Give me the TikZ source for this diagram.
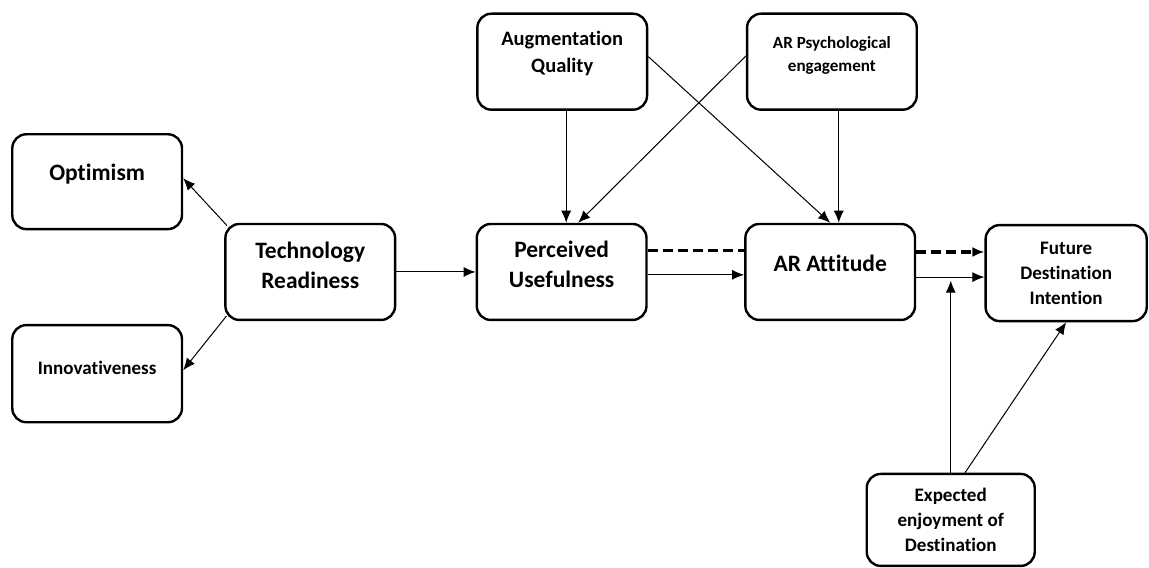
\documentclass[tikz,border=0pt]{standalone}
\usepackage{fontspec}
\setmainfont{Carlito}[Ligatures=NoCommon]
\usetikzlibrary{arrows.meta,positioning}

\begin{document}
\begin{tikzpicture}[font=\bfseries, >={Latex[length=6pt,width=5pt]},
 box/.style={draw,line width=1.2pt,rounded corners=7pt,align=center,minimum width=2.97cm,minimum height=1.68cm,inner sep=2pt},
 lift/.style={execute at end node={\rule[-#1]{0pt}{#1}}},
 bigtxt/.style={font=\bfseries\fontsize{11.7}{15}\selectfont},
 midtxt/.style={font=\bfseries\fontsize{9.5}{12.4}\selectfont},
 arr/.style={->,line width=.5pt},
 dline/.style={line width=1.3pt,dash pattern=on 5pt off 2.5pt},
 darr/.style={->,line width=2pt,dash pattern=on 5pt off 2.5pt}]
\useasboundingbox (0,0) rectangle (20.11,9.94);
\node[box,bigtxt,lift=9pt,minimum height=1.66cm] (opt) at (1.70,6.76) {Optimism};
\node[box,midtxt,lift=6pt,minimum height=1.70cm] (inn) at (1.70,3.40) {Innovativeness};
\node[box,bigtxt,lift=7pt] (tr) at (5.43,5.18) {Technology\\Readiness};
\node[box,bigtxt,lift=8pt] (pu) at (9.83,5.18) {Perceived\\Usefulness};
\node[box,bigtxt,lift=9pt] (ara) at (14.53,5.18) {AR Attitude};
\node[box,midtxt,minimum width=2.82cm] (fdi) at (18.66,5.16) {Future\\Destination\\Intention};
\node[box,lift=10pt,font=\bfseries\fontsize{10.2}{13.4}\selectfont] (aq) at (9.84,8.86) {Augmentation\\Quality};
\node[box,lift=8pt,font=\bfseries\fontsize{8.5}{11.5}\selectfont] (arpe) at (14.56,8.86) {AR Psychological\\engagement};
\node[box,midtxt,minimum width=2.94cm,minimum height=1.61cm] (eed) at (16.64,0.84) {Expected\\enjoyment of\\Destination};
\draw[arr] ([xshift=.05cm,yshift=-.05cm]tr.north west) -- ([yshift=.06cm]opt.east);
\draw[arr] ([xshift=.04cm,yshift=.09cm]tr.south west) -- ([yshift=.06cm]inn.east);
\draw[arr] (tr) -- (pu);
\draw[arr] ([xshift=.07cm]aq.south) -- ([xshift=.07cm]aq.south |- pu.north);
\draw[arr] ([yshift=.1cm]arpe.west) -- ([xshift=.29cm]pu.north);
\draw[arr] ([yshift=.09cm]aq.east) -- (ara.north);
\draw[arr] ([xshift=.12cm]arpe.south) -- ([xshift=.12cm]arpe.south |- ara.north);
\draw[dline] ([yshift=.38cm]pu.east) -- ([yshift=.38cm]pu.east -| ara.west);
\draw[arr] ([yshift=-.05cm]pu.east) -- ([yshift=-.05cm]pu.east -| ara.west);
\draw[darr] ([yshift=.35cm]ara.east) -- ([yshift=.35cm]ara.east -| fdi.west);
\draw[arr] ([yshift=-.09cm]ara.east) -- ([yshift=-.09cm]ara.east -| fdi.west);
\coordinate (meet) at ([yshift=-.15cm]ara.east -| eed.north);
\draw[arr] (eed.north) -- (meet);
\draw[arr] ([xshift=.25cm]eed.north) -- (fdi.south);
\end{tikzpicture}
\end{document}
